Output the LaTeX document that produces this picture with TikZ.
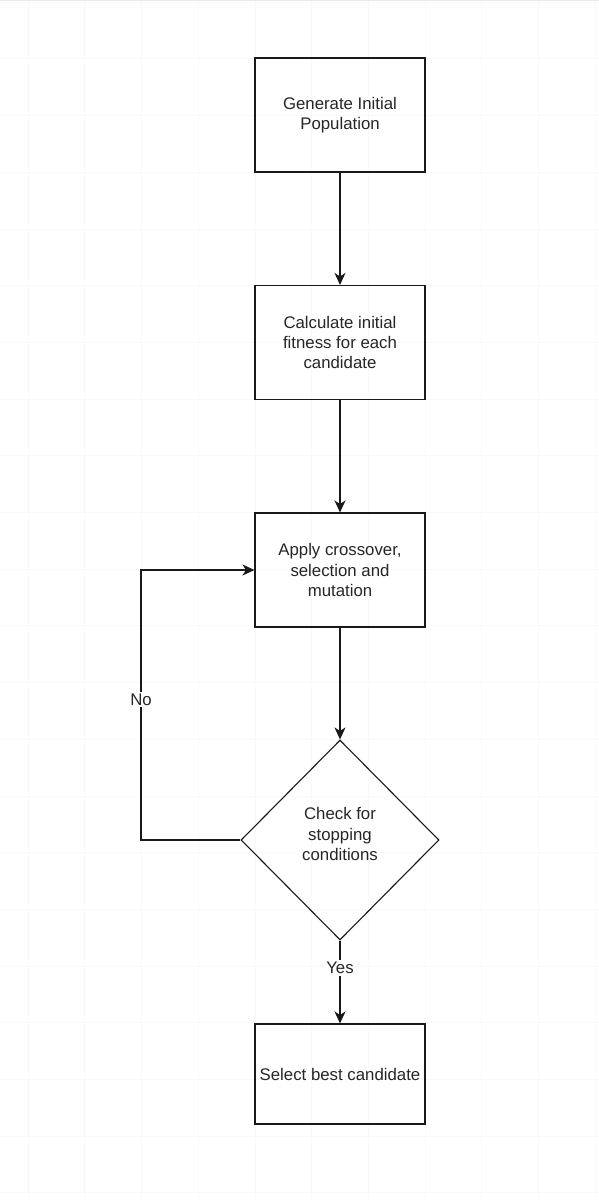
\documentclass[tikz,border=0pt]{standalone}
\usepackage{fontspec}
\setmainfont{Liberation Sans}
\usetikzlibrary{shapes.geometric,arrows.meta}
\begin{document}
\begin{tikzpicture}[x=1pt,y=-1pt,
  txt/.style={align=center, font=\fontsize{16.8}{20.4}\selectfont, text=black!85, inner sep=0pt},
  proc/.style={txt, draw=black!90, line width=1.1pt, rectangle, minimum width=170pt, minimum height=114pt},
  dec/.style={draw=black!90, line width=1.1pt, diamond, minimum width=198pt, minimum height=200pt, inner sep=0pt},
  conn/.style={draw=black!90, line width=1.3pt, -{Stealth[length=12pt,width=11pt,inset=3.5pt]}},
  lbl/.style={fill=white, inner sep=2pt, font=\fontsize{16.8}{20.4}\selectfont, text=black!85},
  gridline/.style={draw=black!2.5, line width=0.6pt}]
\useasboundingbox (0,0) rectangle (599,1200);
\fill[white] (0,0) rectangle (599,1200);
\foreach \gx in {28,84.7,...,600} {\draw[gridline] (\gx,0) -- (\gx,1200);}
\foreach \gy in {2,58.7,...,1200} {\draw[gridline] (0,\gy) -- (599,\gy);}
\draw[black!8, line width=1pt] (0,0.5) -- (599,0.5);

\node[proc] (gen) at (340,115) {Generate Initial\\Population};
\node[proc] (calc) at (340,342.5) {Calculate initial\\fitness for each\\candidate};
\node[proc] (apply) at (340,570) {Apply crossover,\\selection and\\mutation};
\node[dec] (check) at (340,840) {};
\node[txt] (checktxt) at (340,834) {Check for\\stopping\\conditions};
\node[proc, minimum height=100pt] (sel) at (340,1074) {Select best candidate};

\draw[conn] (gen) -- (calc);
\draw[conn] (calc) -- (apply);
\draw[conn] (apply) -- (check);
\draw[conn] (check.south) -- node[lbl, pos=0.33] {Yes} (sel.north);
\coordinate (lb) at (141,840);
\coordinate (lt) at (141,570);
\draw[conn] (check.west) -- (lb) -- node[lbl, pos=0.52] {No} (lt) -- (apply.west);
\end{tikzpicture}
\end{document}
